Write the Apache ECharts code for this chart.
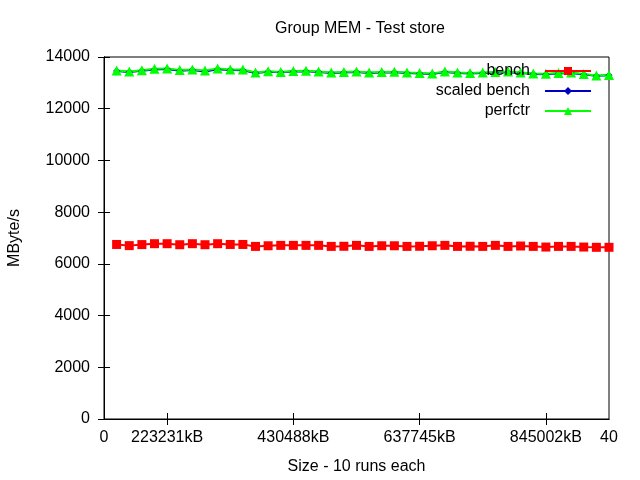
<!DOCTYPE html>
<html><head><meta charset="utf-8">
<script src="https://cdn.jsdelivr.net/npm/echarts@6/dist/echarts.min.js"></script>
<style>html,body{margin:0;padding:0;background:#fff}#c{width:640px;height:480px}</style>
</head><body><div id="c"></div>
<script>
const runs = [1,2,3,4,5,6,7,8,9,10,11,12,13,14,15,16,17,18,19,20,21,22,23,24,25,26,27,28,29,30,31,32,33,34,35,36,37,38,39,40];
const bench = [6750,6705,6745,6780,6780,6740,6780,6740,6780,6750,6750,6675,6700,6715,6715,6715,6715,6675,6680,6715,6675,6700,6700,6675,6680,6700,6715,6675,6680,6675,6715,6675,6690,6675,6650,6675,6675,6650,6640,6640];
const scaledBench = [13460,13420,13470,13520,13540,13470,13500,13440,13530,13500,13490,13380,13430,13410,13440,13450,13420,13380,13400,13420,13380,13400,13410,13380,13360,13340,13420,13380,13360,13380,13400,13410,13380,13340,13330,13360,13380,13320,13270,13290];
const perfctr = [13480,13440,13490,13550,13560,13500,13520,13480,13560,13520,13520,13400,13450,13420,13460,13470,13440,13400,13420,13440,13400,13420,13430,13400,13380,13360,13440,13400,13380,13400,13420,13440,13400,13360,13350,13380,13400,13340,13280,13300];
const xTickValues = [0,5,15,25,35,40];
const xTickLabels = ['0','223231kB','430488kB','637745kB','845002kB','40'];
const xMarkTicks = [5,15,25,35];

const FONT = 'Liberation Sans';
const FS = 16;
const pair = (ys) => runs.map((x,i)=>[x, ys[i]]);
const chart = echarts.init(document.getElementById('c'), null, {renderer:'canvas'});
const tickStyle = {show:true, inside:true, length:6, lineStyle:{color:'#000', width:1}};
chart.setOption({
  animation:false,
  backgroundColor:'#fff',
  title:{text:'Group MEM - Test store', left:355, top:16, textAlign:'center',
    textStyle:{fontFamily:FONT, fontSize:FS, fontWeight:'normal', color:'#000'}},
  grid:{left:104, top:57, width:505, height:362, show:true, borderColor:'#000', borderWidth:1,
    backgroundColor:'transparent', containLabel:false, outerBoundsMode:'none'},
  legend:{right:43, top:58, orient:'vertical', align:'right', itemGap:4, itemWidth:46, itemHeight:10,
    textStyle:{fontFamily:FONT, fontSize:FS, color:'#000', padding:[0,10,0,0]},
    data:['bench','scaled bench','perfctr']},
  xAxis:[{type:'value', min:0, max:40,
    name:'Size - 10 runs each', nameLocation:'middle', nameGap:40,
    nameTextStyle:{fontFamily:FONT, fontSize:FS, color:'#000'},
    axisLine:{show:true, lineStyle:{color:'#000'}},
    axisTick:Object.assign({}, tickStyle, {customValues:xMarkTicks}),
    axisLabel:{customValues:xTickValues, fontFamily:FONT, fontSize:FS, color:'#000', margin:11,
      formatter:(v)=>{const i=xTickValues.indexOf(v);return i>=0?xTickLabels[i]:'';}},
    splitLine:{show:false}},
   {type:'value', min:0, max:40, position:'top',
    axisLine:{show:true, lineStyle:{color:'#000'}},
    axisTick:Object.assign({}, tickStyle, {customValues:xMarkTicks}),
    axisLabel:{show:false}, splitLine:{show:false}}],
  yAxis:[{type:'value', min:0, max:14000, interval:2000,
    name:'MByte/s', nameLocation:'middle', nameGap:81, nameRotate:90,
    nameTextStyle:{fontFamily:FONT, fontSize:FS, color:'#000'},
    axisLine:{show:true, lineStyle:{color:'#000'}},
    axisTick:tickStyle,
    axisLabel:{fontFamily:FONT, fontSize:FS, color:'#000', margin:14, formatter:(v)=>String(v)},
    splitLine:{show:false}},
   {type:'value', min:0, max:14000, interval:2000, position:'right',
    axisLine:{show:true, lineStyle:{color:'#000'}},
    axisTick:tickStyle, axisLabel:{show:false}, splitLine:{show:false}}],
  series:[
    {name:'bench', type:'line', data:pair(bench), symbol:'rect', symbolSize:9,
      lineStyle:{color:'#ff0000', width:2}, itemStyle:{color:'#ff0000'}, clip:true},
    {name:'scaled bench', type:'line', data:pair(scaledBench), symbol:'diamond', symbolSize:7,
      lineStyle:{color:'#0000c0', width:2}, itemStyle:{color:'#0000c0'}, clip:true},
    {name:'perfctr', type:'line', data:pair(perfctr), symbol:'triangle', symbolSize:10,
      lineStyle:{color:'#00ff00', width:2}, itemStyle:{color:'#00ff00'}, clip:true}
  ]
});
</script></body></html>
